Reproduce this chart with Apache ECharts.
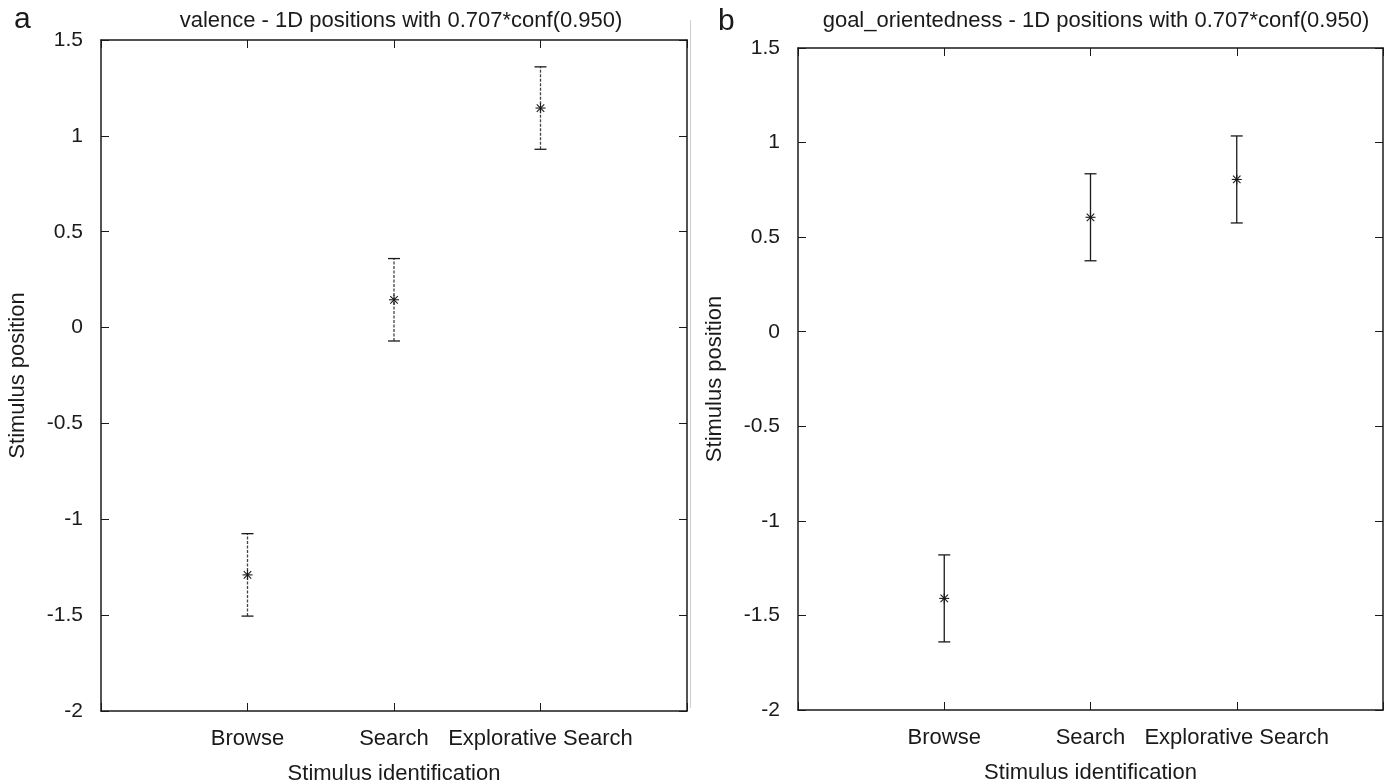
<!DOCTYPE html>
<html>
<head>
<meta charset="utf-8">
<script src="https://cdn.jsdelivr.net/npm/echarts@6/dist/echarts.min.js"></script>
<style>
  html, body { margin: 0; padding: 0; background: #fff; }
  #main { width: 1389px; height: 784px; }
</style>
</head>
<body>
<div id="main"></div>
<script>
  // categories on the x axis (placed at x = 1, 2, 3)
  var categories = ['Browse', 'Search', 'Explorative Search'];
  var catPos = [1, 2, 3];

  // panel a: valence
  var valenceMean = [-1.29, 0.145, 1.145];
  var valenceLow = [-1.505, -0.07, 0.93];
  var valenceHigh = [-1.075, 0.36, 1.36];

  // panel b: goal_orientedness
  var goalMean = [-1.41, 0.605, 0.805];
  var goalLow = [-1.64, 0.375, 0.575];
  var goalHigh = [-1.18, 0.835, 1.035];

  var yTicks = [-2, -1.5, -1, -0.5, 0, 0.5, 1, 1.5];

  var FONT = '"Liberation Sans", Arial, sans-serif';
  var INK = '#1a1a1a';

  function rows(mean, low, high) {
    var out = [];
    for (var i = 0; i < mean.length; i++) {
      out.push([catPos[i], mean[i], low[i], high[i]]);
    }
    return out;
  }

  function errRender(dashed) {
    return function (params, api) {
      var x = api.value(0);
      var c = api.coord([x, api.value(1)]);
      var lo = api.coord([x, api.value(2)]);
      var hi = api.coord([x, api.value(3)]);
      var cap = 6, s = 5;
      var barStyle = { stroke: dashed ? '#444' : INK, lineWidth: 1.3, lineDash: dashed ? [3, 1.5] : null };
      var capStyle = { stroke: INK, lineWidth: 1.3 };
      var mk = { stroke: INK, lineWidth: 1.1 };
      return {
        type: 'group',
        children: [
          { type: 'line', shape: { x1: lo[0], y1: lo[1], x2: hi[0], y2: hi[1] }, style: barStyle },
          { type: 'line', shape: { x1: lo[0] - cap, y1: lo[1], x2: lo[0] + cap, y2: lo[1] }, style: capStyle },
          { type: 'line', shape: { x1: hi[0] - cap, y1: hi[1], x2: hi[0] + cap, y2: hi[1] }, style: capStyle },
          // asterisk marker
          { type: 'line', shape: { x1: c[0] - s, y1: c[1], x2: c[0] + s, y2: c[1] }, style: mk },
          { type: 'line', shape: { x1: c[0], y1: c[1] - s, x2: c[0], y2: c[1] + s }, style: mk },
          { type: 'line', shape: { x1: c[0] - s * 0.75, y1: c[1] - s * 0.75, x2: c[0] + s * 0.75, y2: c[1] + s * 0.75 }, style: mk },
          { type: 'line', shape: { x1: c[0] - s * 0.75, y1: c[1] + s * 0.75, x2: c[0] + s * 0.75, y2: c[1] - s * 0.75 }, style: mk }
        ]
      };
    };
  }

  function catLabel(v) {
    var i = catPos.indexOf(v);
    return i >= 0 ? categories[i] : '';
  }

  function xAxes(gi) {
    return [{
      gridIndex: gi, type: 'value', position: 'bottom', min: 0, max: 4, interval: 1,
      name: 'Stimulus identification', nameLocation: 'middle', nameGap: 52,
      nameTextStyle: { fontFamily: FONT, fontSize: 22, color: INK },
      axisLine: { show: true, onZero: false, lineStyle: { color: INK, width: 1.5 } },
      axisTick: { inside: true, length: 8, lineStyle: { color: INK } },
      axisLabel: { formatter: catLabel, margin: 17, fontFamily: FONT, fontSize: 22, color: INK },
      splitLine: { show: false }
    }, {
      gridIndex: gi, type: 'value', position: 'top', min: 0, max: 4, interval: 1,
      axisLine: { show: true, onZero: false, lineStyle: { color: INK, width: 1.5 } },
      axisTick: { inside: true, length: 8, lineStyle: { color: INK } },
      axisLabel: { show: false },
      splitLine: { show: false }
    }];
  }

  function yAxes(gi) {
    return [{
      gridIndex: gi, type: 'value', position: 'left', min: -2, max: 1.5, interval: 0.5,
      name: 'Stimulus position', nameLocation: 'middle', nameGap: 72, nameRotate: 90,
      nameTextStyle: { fontFamily: FONT, fontSize: 22, color: INK },
      axisLine: { show: true, onZero: false, lineStyle: { color: INK, width: 1.5 } },
      axisTick: { inside: true, length: 8, lineStyle: { color: INK } },
      axisLabel: { margin: 18, fontFamily: FONT, fontSize: 21, color: INK,
        formatter: function (v) { return yTicks.indexOf(v) >= 0 ? String(v) : ''; } },
      splitLine: { show: false }
    }, {
      gridIndex: gi, type: 'value', position: 'right', min: -2, max: 1.5, interval: 0.5,
      axisLine: { show: true, onZero: false, lineStyle: { color: INK, width: 1.5 } },
      axisTick: { inside: true, length: 8, lineStyle: { color: INK } },
      axisLabel: { show: false },
      splitLine: { show: false }
    }];
  }

  var chart = echarts.init(document.getElementById('main'), null, { renderer: 'canvas' });

  var option = {
    backgroundColor: '#fff',
    animation: false,
    title: [
      { text: 'valence - 1D positions with 0.707*conf(0.950)', left: 396, top: 5, textAlign: 'center',
        textStyle: { fontFamily: FONT, fontSize: 22, fontWeight: 'normal', color: INK } },
      { text: 'goal_orientedness - 1D positions with 0.707*conf(0.950)', left: 1091, top: 5, textAlign: 'center',
        textStyle: { fontFamily: FONT, fontSize: 22, fontWeight: 'normal', color: INK } },
      { text: 'a', left: 9, top: 0, textStyle: { fontFamily: FONT, fontSize: 30, fontWeight: 'normal', color: INK } },
      { text: 'b', left: 713, top: 2, textStyle: { fontFamily: FONT, fontSize: 30, fontWeight: 'normal', color: INK } }
    ],
    grid: [
      { left: 101, top: 40, width: 586, height: 671, outerBoundsMode: 'none', containLabel: false },
      { left: 798, top: 48, width: 585, height: 662, outerBoundsMode: 'none', containLabel: false }
    ],
    xAxis: xAxes(0).concat(xAxes(1)),
    yAxis: yAxes(0).concat(yAxes(1)),
    graphic: [
      { type: 'line', shape: { x1: 690.5, y1: 20, x2: 690.5, y2: 708 }, style: { stroke: '#cfcfcf', lineWidth: 1 } }
    ],
    series: [
      { type: 'custom', xAxisIndex: 0, yAxisIndex: 0, renderItem: errRender(true),
        data: rows(valenceMean, valenceLow, valenceHigh), encode: { x: 0, y: [1, 2, 3] } },
      { type: 'custom', xAxisIndex: 2, yAxisIndex: 2, renderItem: errRender(false),
        data: rows(goalMean, goalLow, goalHigh), encode: { x: 0, y: [1, 2, 3] } }
    ]
  };

  chart.setOption(option);
</script>
</body>
</html>
